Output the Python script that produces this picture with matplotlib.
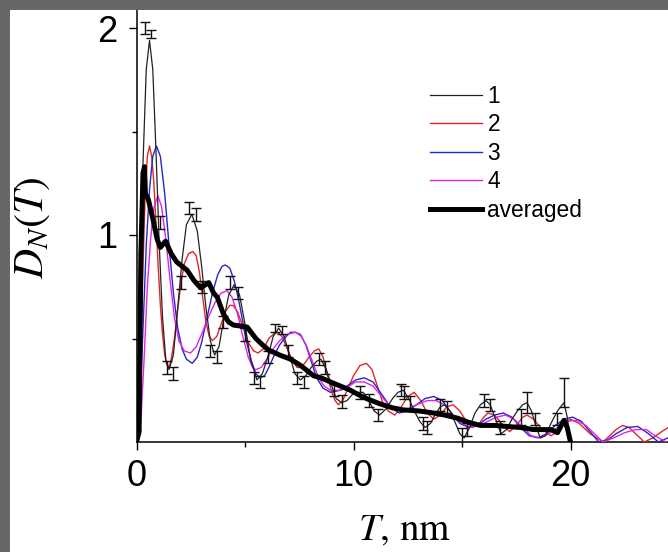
import matplotlib
matplotlib.use("Agg")
import matplotlib.pyplot as plt
from matplotlib.patches import Rectangle
from matplotlib.lines import Line2D

# ---------------- data ----------------
# series 1 (fit curve, thin black)
t1 = [0, 0.15, 0.3, 0.45, 0.6, 0.75, 0.9, 1.05, 1.2, 1.35, 1.5, 1.7, 1.9, 2.1, 2.3, 2.55,
      2.8, 3.0, 3.2, 3.4, 3.6, 3.8, 4.0, 4.25, 4.5, 4.75, 5.0, 5.25, 5.55, 5.8, 6.05, 6.3,
      6.55, 6.8, 7.05, 7.3, 7.55, 7.8, 8.05, 8.3, 8.5, 8.75, 9.0, 9.2, 9.45, 9.7, 9.95,
      10.2, 10.45, 10.7, 10.95, 11.2, 11.5, 11.8, 12.05, 12.3, 12.55, 12.8, 13.05, 13.3,
      13.55, 13.8, 14.0, 14.2, 14.45, 14.7, 14.9, 15.1, 15.35, 15.6, 15.85, 16.1, 16.3,
      16.55, 16.8, 17.05, 17.3, 17.55, 17.8, 18.0, 18.2, 18.4, 18.6, 18.85, 19.1, 19.4,
      19.7, 19.85, 20.0]
d1 = [0, 0.6, 1.35, 1.8, 1.94, 1.8, 1.4, 0.95, 0.6, 0.4, 0.35, 0.42, 0.65, 0.88, 1.05, 1.1,
      1.02, 0.85, 0.65, 0.49, 0.42, 0.46, 0.58, 0.71, 0.76, 0.71, 0.57, 0.4, 0.3, 0.33, 0.41, 0.51,
      0.55, 0.51, 0.42, 0.33, 0.3, 0.32, 0.36, 0.39, 0.4, 0.35, 0.27, 0.21, 0.19, 0.2, 0.23,
      0.24, 0.24, 0.2, 0.15, 0.13, 0.16, 0.21, 0.24, 0.25, 0.21, 0.15, 0.1, 0.07,
      0.09, 0.14, 0.17, 0.18, 0.15, 0.09, 0.04, 0.02, 0.07, 0.14, 0.18, 0.2, 0.18,
      0.11, 0.04, 0.06, 0.11, 0.15, 0.18, 0.19, 0.15, 0.08, 0.02, 0.03, 0.09, 0.15,
      0.19, 0.12, 0.0]

# series 1 measured points with error bars
pt_x = [0.37, 0.68, 1.06, 1.4, 1.7, 2.07, 2.4, 2.72, 3.03, 3.41, 3.72, 4.0, 4.33, 4.7, 5.0,
        5.4, 5.7, 6.04, 6.4, 6.7, 7.0, 7.4, 7.7, 8.4, 8.7, 9.08, 9.48, 10.3, 10.7, 11.15,
        12.2, 12.35, 12.6, 13.2, 13.4, 14.0, 14.3, 15.0, 15.25, 16.0, 16.3, 16.75, 17.7,
        18.0, 18.35, 19.4, 19.7]
pt_y = [2.0, 1.97, 1.06, 0.36, 0.33, 0.77, 1.13, 1.10, 0.75, 0.44, 0.41, 0.58, 0.77, 0.72, 0.52,
        0.31, 0.29, 0.41, 0.55, 0.54, 0.44, 0.31, 0.29, 0.40, 0.36, 0.25, 0.195, 0.24, 0.20, 0.13,
        0.25, 0.24, 0.19, 0.09, 0.07, 0.18, 0.17, 0.03, 0.06, 0.20, 0.18, 0.07, 0.12,
        0.19, 0.11, 0.11, 0.24]
pt_e = [0.03, 0.02, 0.03, 0.03, 0.03, 0.03, 0.03, 0.03, 0.03, 0.03, 0.03, 0.03, 0.03, 0.03, 0.03,
        0.03, 0.03, 0.03, 0.02, 0.02, 0.03, 0.03, 0.03, 0.03, 0.03, 0.03, 0.03, 0.03, 0.03, 0.03,
        0.03, 0.03, 0.03, 0.03, 0.03, 0.03, 0.03, 0.04, 0.03, 0.03, 0.03, 0.03, 0.04,
        0.05, 0.03, 0.03, 0.07]

# series 2 (red)
t2 = [0, 0.1, 0.2, 0.3, 0.4, 0.5, 0.6, 0.7, 0.8, 0.9, 1.0, 1.1, 1.2, 1.3, 1.4, 1.5, 1.6,
      1.75, 1.9, 2.05, 2.2, 2.4, 2.6, 2.75, 2.9, 3.05, 3.2, 3.35, 3.5, 3.7, 3.9, 4.1, 4.3,
      4.45, 4.65, 4.9, 5.15, 5.4, 5.6, 5.85, 6.1, 6.3, 6.5, 6.7, 6.95, 7.2, 7.4, 7.55, 7.75,
      7.95, 8.2, 8.4, 8.6, 8.8, 9.0, 9.15, 9.3, 9.5, 9.75, 10.0, 10.3, 10.6, 10.85, 11.1,
      11.35, 11.6, 11.9, 12.2, 12.5, 12.8, 13.1, 13.4,
      13.7, 14.0, 14.3, 14.6, 14.9, 15.2, 15.5, 15.8, 16.0, 16.2, 16.5, 16.9, 17.2, 17.5,
      17.8, 18.0, 18.3, 18.7, 19.1, 19.4, 19.7, 20.0, 20.4, 20.9, 21.5, 21.8, 22.1, 22.4,
      22.7, 23.0, 23.4, 23.8, 24.2, 24.5]
d2 = [0, 0.12, 0.45, 0.85, 1.2, 1.38, 1.43, 1.38, 1.25, 1.05, 0.85, 0.66, 0.52, 0.42, 0.37, 0.36, 0.4,
      0.5, 0.64, 0.77, 0.86, 0.91, 0.92, 0.9, 0.82, 0.7, 0.58, 0.51, 0.49, 0.51, 0.57, 0.63, 0.66,
      0.66, 0.63, 0.56, 0.48, 0.44, 0.43, 0.45, 0.5, 0.52, 0.53, 0.51, 0.45, 0.39, 0.36, 0.36, 0.38,
      0.41, 0.44, 0.45, 0.41, 0.32, 0.24, 0.2, 0.18, 0.2, 0.26, 0.32, 0.37, 0.38, 0.35, 0.27,
      0.19, 0.15, 0.13, 0.17, 0.22, 0.24, 0.2, 0.14,
      0.11, 0.13, 0.17, 0.18, 0.15, 0.1, 0.07, 0.09, 0.12, 0.14, 0.13, 0.08, 0.05, 0.08,
      0.12, 0.13, 0.11, 0.06, 0.03, 0.05, 0.09, 0.11, 0.09, 0.04, 0.0, 0.03, 0.06, 0.08,
      0.07, 0.04, 0.0, 0.02, 0.05, 0.07]

# series 3 (blue)
t3 = [0, 0.15, 0.3, 0.45, 0.6, 0.75, 0.92, 1.1, 1.3, 1.5, 1.7, 1.9, 2.1, 2.3, 2.57, 2.8, 3.0,
      3.25, 3.5, 3.75, 3.95, 4.1, 4.3, 4.5, 4.7, 4.9, 5.1, 5.3, 5.5, 5.7, 5.9, 6.1, 6.35, 6.6,
      6.9, 7.1, 7.33, 7.55, 7.8, 8.05, 8.3, 8.6, 8.94, 9.4, 9.7, 10.1, 10.5, 10.9, 11.3, 11.7,
      12.1, 12.5, 12.9, 13.3, 13.7, 14.1, 14.5, 14.9, 15.3, 15.7, 16.1, 16.5, 16.9, 17.3,
      17.7, 18.1, 18.5, 18.9, 19.3, 19.7, 20.1, 20.5, 20.9, 21.3, 21.7, 22.1, 22.6, 23.1,
      23.6, 24.05, 24.5]
d3 = [0, 0.15, 0.55, 0.95, 1.22, 1.38, 1.43, 1.38, 1.2, 0.95, 0.72, 0.55, 0.45, 0.4, 0.38, 0.41, 0.48,
      0.6, 0.72, 0.81, 0.85, 0.855, 0.84, 0.78, 0.69, 0.58, 0.47, 0.39, 0.33, 0.31, 0.32, 0.36, 0.42, 0.47,
      0.51, 0.53, 0.53, 0.52, 0.47, 0.39, 0.31, 0.26, 0.24, 0.25, 0.27, 0.3, 0.31, 0.29, 0.23, 0.17,
      0.14, 0.15, 0.18, 0.21, 0.22, 0.2, 0.14, 0.09, 0.07, 0.08, 0.11, 0.13, 0.14, 0.12,
      0.07, 0.03, 0.02, 0.04, 0.08, 0.11, 0.12, 0.1, 0.05, 0.0, 0.01, 0.04, 0.07, 0.075,
      0.04, 0.0, 0.02]

# series 4 (magenta)
t4 = [0, 0.2, 0.35, 0.5, 0.65, 0.8, 0.98, 1.15, 1.35, 1.55, 1.75, 1.95, 2.2, 2.49, 2.75, 3.0,
      3.3, 3.6, 3.9, 4.18, 4.4, 4.65, 4.9, 5.15, 5.35, 5.5, 5.75, 6.0, 6.3, 6.6, 6.95, 7.33,
      7.6, 7.85, 8.1, 8.4, 8.65, 8.94, 9.4, 9.8, 10.1, 10.5, 10.9, 11.3,
      11.7, 12.1, 12.5, 12.9, 13.4, 13.8, 14.2, 14.6, 15.0, 15.4, 15.8, 16.2, 16.6, 17.0,
      17.4, 17.8, 18.2, 18.6, 19.0, 19.4, 19.8, 20.3, 20.7, 21.1, 21.5, 22.0, 22.5, 23.0,
      23.5, 23.9, 24.4]
d4 = [0, 0.1, 0.4, 0.75, 0.98, 1.13, 1.19, 1.14, 0.98, 0.78, 0.6, 0.49, 0.44, 0.43, 0.46, 0.52,
      0.6, 0.67, 0.72, 0.73, 0.7, 0.62, 0.51, 0.41, 0.36, 0.35, 0.36, 0.4, 0.45, 0.49, 0.52, 0.53,
      0.51, 0.46, 0.39, 0.31, 0.27, 0.25, 0.25, 0.27, 0.29, 0.29, 0.27, 0.22,
      0.17, 0.15, 0.16, 0.18, 0.2, 0.2, 0.18, 0.13, 0.09, 0.07, 0.08, 0.1, 0.12, 0.13,
      0.11, 0.07, 0.03, 0.02, 0.04, 0.07, 0.1, 0.105, 0.08, 0.04, 0.0, 0.02, 0.045, 0.06,
      0.06, 0.03, 0.0]

# averaged (thick black)
ta = [0.0, 0.12, 0.2, 0.3, 0.37, 0.41, 0.55, 0.75, 0.95, 1.1, 1.34, 1.6, 1.85, 2.03, 2.33,
      2.65, 2.95, 3.03, 3.33, 3.55, 3.72, 4.0, 4.24, 4.47, 4.8, 5.1, 5.5, 5.8, 6.08, 6.6,
      7.1, 7.56, 8.16, 8.5, 8.94, 9.4, 9.86, 10.2, 10.6, 11.2, 11.8, 12.3, 13.0, 13.7,
      14.2, 14.8, 15.3, 15.85, 16.5, 17.1, 17.7, 18.3, 19.1, 19.4, 19.7, 19.85, 20.0]
da = [0.0, 0.05, 0.9, 1.3, 1.33, 1.2, 1.17, 1.08, 0.98, 0.94, 0.97, 0.91, 0.87, 0.855, 0.83,
      0.78, 0.745, 0.75, 0.77, 0.72, 0.70, 0.62, 0.58, 0.565, 0.56, 0.555, 0.5, 0.47, 0.445, 0.42,
      0.40, 0.37, 0.32, 0.31, 0.29, 0.27, 0.25, 0.23, 0.21, 0.185, 0.165, 0.155, 0.15, 0.14,
      0.13, 0.115, 0.095, 0.08, 0.08, 0.075, 0.07, 0.06, 0.06, 0.045, 0.105, 0.07, 0.0]

legend_labels = ["1", "2", "3", "4", "averaged"]
x_ticks = [0, 10, 20]
y_ticks = [1, 2]

# ---------------- figure ----------------
plt.rcParams["mathtext.fontset"] = "stix"
W, H = 668, 552
fig = plt.figure(figsize=(W / 100, H / 100), dpi=100)
fig.patch.set_facecolor("white")

x0_px, y0_px = 136.5, 442.0
px_per_x, px_per_y = 21.7, 207.0
top_px = 10.0
xmax = (W - x0_px) / px_per_x
ymax = (y0_px - top_px) / px_per_y

ax = fig.add_axes([x0_px / W, (H - y0_px) / H, 1 - x0_px / W, (y0_px - top_px) / H])
ax.set_xlim(0, xmax)
ax.set_ylim(0, ymax)

c1, c2, c3, c4 = "#222222", "#e0262a", "#2626c8", "#e022e6"
ax.plot(t2, d2, color=c2, lw=1.0, zorder=3)
ax.plot(t3, d3, color=c3, lw=1.0, zorder=3)
ax.plot(t4, d4, color=c4, lw=1.0, zorder=3)
ax.plot(t1, d1, color=c1, lw=0.9, zorder=4)
ax.errorbar(pt_x, pt_y, yerr=pt_e, fmt="none", ecolor="#111111", elinewidth=1.0,
            capsize=3.5, capthick=1.0, zorder=5)
ax.plot(ta, da, color="black", lw=3.6, zorder=6, solid_joinstyle="round")

handles = [Line2D([], [], color=c1, lw=0.9),
           Line2D([], [], color=c2, lw=1.0),
           Line2D([], [], color=c3, lw=1.0),
           Line2D([], [], color=c4, lw=1.0),
           Line2D([], [], color="black", lw=3.6)]
ax.legend(handles, legend_labels, loc="upper left",
          bbox_to_anchor=(430 / W, 1 - 85 / H), bbox_transform=fig.transFigure,
          frameon=False, handlelength=2.3, handletextpad=0.22, labelspacing=0.24,
          borderaxespad=0, borderpad=0,
          prop={"family": "Liberation Sans", "size": 16.4})

for s in ["top", "right"]:
    ax.spines[s].set_visible(False)
for s in ["left", "bottom"]:
    ax.spines[s].set_linewidth(1.1)

ax.set_xticks(x_ticks)
ax.set_xticks([5, 15], minor=True)
ax.set_yticks(y_ticks)
ax.set_yticks([0.5, 1.5], minor=True)
ax.tick_params(which="major", direction="out", length=5.5, width=1.0, pad=7)
ax.tick_params(which="minor", direction="out", length=3.5, width=1.0)
ax.tick_params(axis="y", which="major", pad=8)
for lab in ax.get_xticklabels() + ax.get_yticklabels():
    lab.set_family("Liberation Sans")
    lab.set_fontsize(26)

fig.text(404 / W, 1 - 530 / H, r"$T$, nm", family="STIXGeneral", fontsize=28,
         ha="center", va="center")
fig.text(31 / W, 1 - 228 / H, r"$D_N(T)$", fontsize=30, rotation=90,
         ha="center", va="center")

# grey screenshot border (left and top)
fig.patches.append(Rectangle((0, 0), 10 / W, 1, transform=fig.transFigure,
                             facecolor="#676767", edgecolor="none", zorder=10))
fig.patches.append(Rectangle((0, 1 - 10 / H), 1, 10 / H, transform=fig.transFigure,
                             facecolor="#676767", edgecolor="none", zorder=10))

fig.savefig("out.png", dpi=100)
